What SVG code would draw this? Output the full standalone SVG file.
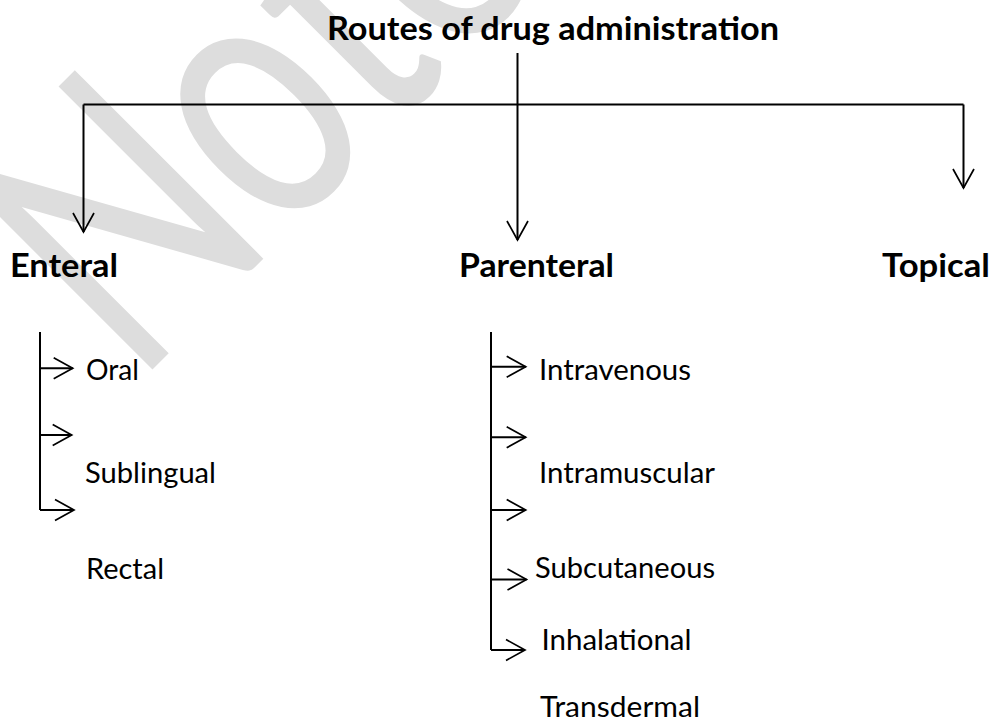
<svg xmlns="http://www.w3.org/2000/svg" width="995" height="723" viewBox="0 0 995 723">
  <defs>
    <style>
      .wm { font-family: Lato, "Noto Sans", sans-serif; font-weight: 400; fill: #dddddd; }
      .h { font-family: Lato, "Liberation Sans", sans-serif; font-weight: 700; font-size: 32.7px; fill: #000; }
      .t { font-family: Lato, "Liberation Sans", sans-serif; font-weight: 400; font-size: 28px; fill: #000; }
      .ln { fill: none; stroke: #000; stroke-width: 2; }
    </style>
    <!-- open V arrowhead shared by every connector -->
    <marker id="vhead" markerUnits="userSpaceOnUse" viewBox="-2 -2 24 26" markerWidth="24" markerHeight="26" refX="19" refY="10.5" orient="auto" overflow="visible">
      <path d="M0,0 L19,10.5 L0,21" fill="none" stroke="#000" stroke-width="1.7"/>
    </marker>
  </defs>

  <rect width="995" height="723" fill="#ffffff"/>

  <!-- background watermark -->
  <g id="watermark">
    <text class="wm" font-size="270" transform="translate(135,387) rotate(-45) scale(1,1.378)">Notes</text>
  </g>

  <!-- connectors -->
  <g id="connectors" class="ln">
    <path d="M517.5,53 V240" marker-end="url(#vhead)"/>
    <path d="M83.5,104.5 H963.5"/>
    <path d="M83.5,104.5 V232" marker-end="url(#vhead)"/>
    <path d="M963.5,104.5 V188" marker-end="url(#vhead)"/>

    <path d="M40,332 V510"/>
    <path d="M40,368.3 H72.7" marker-end="url(#vhead)"/>
    <path d="M40,435 H71.7" marker-end="url(#vhead)"/>
    <path d="M40,510 H74" marker-end="url(#vhead)"/>

    <path d="M491,332 V650"/>
    <path d="M491,366.7 H525.7" marker-end="url(#vhead)"/>
    <path d="M491,437.3 H525.7" marker-end="url(#vhead)"/>
    <path d="M491,510 H525.7" marker-end="url(#vhead)"/>
    <path d="M491,579.5 H526.5" marker-end="url(#vhead)"/>
    <path d="M491,650 H525" marker-end="url(#vhead)"/>
  </g>

  <!-- nodes -->
  <g id="node-root">
    <text class="h" x="327" y="40" textLength="452" lengthAdjust="spacingAndGlyphs">Routes of drug administration</text>
  </g>
  <g id="node-enteral">
    <text class="h" x="10" y="277" textLength="108" lengthAdjust="spacingAndGlyphs">Enteral</text>
  </g>
  <g id="node-parenteral">
    <text class="h" x="459" y="277" textLength="155" lengthAdjust="spacingAndGlyphs">Parenteral</text>
  </g>
  <g id="node-topical">
    <text class="h" x="882" y="277" textLength="108" lengthAdjust="spacingAndGlyphs">Topical</text>
  </g>

  <g id="node-oral">
    <text class="t" x="86" y="380" textLength="53" lengthAdjust="spacingAndGlyphs">Oral</text>
  </g>
  <g id="node-sublingual">
    <text class="t" x="85" y="483" textLength="131" lengthAdjust="spacingAndGlyphs">Sublingual</text>
  </g>
  <g id="node-rectal">
    <text class="t" x="86" y="579" textLength="78" lengthAdjust="spacingAndGlyphs">Rectal</text>
  </g>

  <g id="node-intravenous">
    <text class="t" x="539" y="380" textLength="152" lengthAdjust="spacingAndGlyphs">Intravenous</text>
  </g>
  <g id="node-intramuscular">
    <text class="t" x="539" y="483" textLength="176" lengthAdjust="spacingAndGlyphs">Intramuscular</text>
  </g>
  <g id="node-subcutaneous">
    <text class="t" x="535" y="578" textLength="180" lengthAdjust="spacingAndGlyphs">Subcutaneous</text>
  </g>
  <g id="node-inhalational">
    <text class="t" x="541.5" y="650" textLength="150" lengthAdjust="spacingAndGlyphs">Inhalational</text>
  </g>
  <g id="node-transdermal">
    <text class="t" x="540" y="717" textLength="160" lengthAdjust="spacingAndGlyphs">Transdermal</text>
  </g>
</svg>
